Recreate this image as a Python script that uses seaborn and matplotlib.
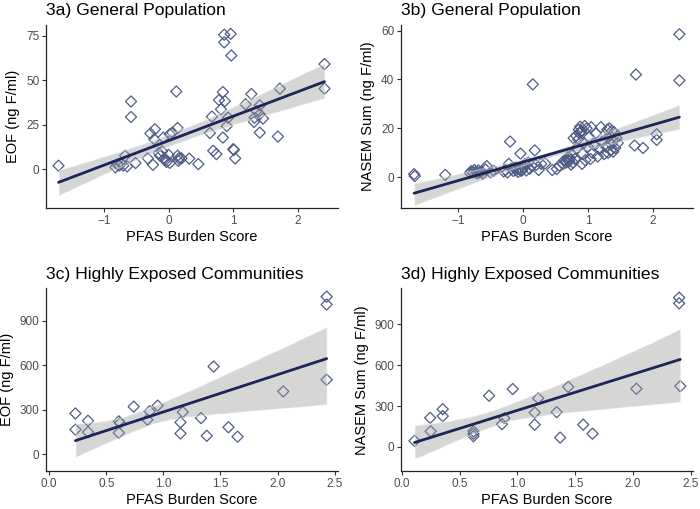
import matplotlib
matplotlib.use("Agg")
import matplotlib.pyplot as plt
import seaborn as sns
from matplotlib.collections import PolyCollection, PathCollection
from matplotlib.ticker import FormatStrFormatter

sns.set_theme(style="ticks")
plt.rcParams["font.family"] = ["Liberation Sans", "DejaVu Sans"]

# ---- data ----
# 3a) general population, EOF vs PFAS burden score
gen_eof_x = [-1.70, -0.82, -0.79, -0.76, -0.73, -0.70, -0.67, -0.64, -0.58, -0.58,
             -0.51, -0.32, -0.28, -0.24, -0.22, -0.21, -0.15, -0.13, -0.10, -0.08,
             -0.06, -0.05, -0.03, 0.00, 0.02, 0.02, 0.06, 0.12, 0.14, 0.14,
             0.15, 0.16, 0.20, 0.32, 0.46, 0.64, 0.67, 0.69, 0.74, 0.78,
             0.81, 0.84, 0.84, 0.86, 0.86, 0.87, 0.90, 0.92, 0.96, 0.97,
             1.00, 1.01, 1.03, 1.19, 1.28, 1.32, 1.33, 1.36, 1.41, 1.41,
             1.41, 1.46, 1.69, 1.72, 2.41, 2.41]
gen_eof_y = [1.9, 1.0, 2.5, 2.0, 3.0, 2.0, 7.5, 1.5, 38.0, 29.3,
             3.4, 6.0, 20.0, 2.4, 16.8, 22.4, 9.0, 7.5, 10.0, 17.7,
             6.0, 5.0, 4.0, 8.0, 19.6, 3.5, 20.5, 43.6, 23.1, 7.5,
             4.7, 6.0, 6.0, 5.9, 2.8, 20.3, 29.5, 10.3, 8.4, 38.8,
             33.6, 43.3, 17.7, 75.5, 71.2, 38.2, 24.2, 28.9, 76.0, 63.8,
             11.2, 10.8, 6.0, 36.4, 42.2, 26.5, 28.9, 32.6, 35.8, 30.8,
             20.5, 28.4, 18.3, 45.2, 59.0, 45.2]

# 3b) general population, NASEM sum vs PFAS burden score
gen_nasem_x = [-1.68, -1.67, -1.20, -0.82, -0.80, -0.77, -0.75, -0.73, -0.71, -0.69,
               -0.67, -0.64, -0.62, -0.58, -0.56, -0.50, -0.45, -0.30, -0.27, -0.24,
               -0.22, -0.20, -0.18, -0.15, -0.12, -0.10, -0.08, -0.06, -0.04, -0.03,
               -0.01, 0.01, 0.03, 0.05, 0.08, 0.10, 0.13, 0.15, 0.18, 0.20,
               0.24, 0.28, 0.34, 0.45, 0.52, 0.56, 0.62, 0.64, 0.66, 0.68,
               0.69, 0.70, 0.71, 0.72, 0.74, 0.75, 0.77, 0.78, 0.80, 0.82,
               0.83, 0.85, 0.86, 0.87, 0.88, 0.89, 0.90, 0.91, 0.92, 0.93,
               0.95, 0.96, 0.98, 1.00, 1.02, 1.04, 1.05, 1.07, 1.10, 1.12,
               1.15, 1.18, 1.20, 1.22, 1.25, 1.28, 1.30, 1.31, 1.33, 1.34,
               1.35, 1.36, 1.37, 1.38, 1.39, 1.40, 1.42, 1.44, 1.46, 1.72,
               1.74, 1.85, 2.06, 2.06, 2.41, 2.41]
gen_nasem_y = [1.3, 0.5, 1.0, 1.8, 2.5, 2.0, 3.0, 2.2, 1.6, 2.8,
               2.0, 2.4, 1.5, 3.2, 4.6, 2.0, 2.6, 2.4, 3.0, 2.0,
               5.5, 14.6, 3.5, 2.6, 4.0, 3.0, 2.2, 3.4, 9.7, 2.6,
               3.0, 4.2, 5.5, 2.8, 6.0, 3.5, 4.8, 38.0, 11.0, 5.0,
               3.0, 5.5, 5.7, 3.0, 3.4, 4.8, 5.5, 7.0, 6.0, 7.5,
               8.2, 7.0, 6.5, 8.0, 5.2, 9.0, 6.0, 16.0, 7.5, 17.0,
               12.0, 15.5, 19.5, 18.0, 20.7, 18.5, 19.0, 5.5, 9.5, 14.0,
               21.0, 7.0, 20.0, 12.5, 16.5, 7.5, 20.5, 10.0, 13.0, 18.0,
               8.5, 11.5, 20.5, 14.5, 9.5, 12.5, 19.5, 10.0, 20.0, 17.0,
               11.0, 13.5, 19.0, 15.0, 10.5, 18.5, 12.0, 16.0, 14.0, 13.0,
               42.0, 12.0, 17.6, 15.3, 58.5, 39.6]

# 3c) highly exposed communities, EOF
hec_eof_x = [0.23, 0.23, 0.34, 0.34, 0.61, 0.62, 0.61, 0.74, 0.86, 0.88,
             0.95, 1.15, 1.15, 1.17, 1.33, 1.38, 1.44, 1.57, 1.65, 2.05,
             2.43, 2.43, 2.43]
hec_eof_y = [275, 166, 226, 149, 222, 210, 144, 321, 233, 290,
             328, 215, 140, 284, 244, 124, 592, 182, 118, 424,
             1064, 1011, 503]

# 3d) highly exposed communities, NASEM sum
hec_nasem_x = [0.11, 0.245, 0.25, 0.354, 0.354, 0.62, 0.62, 0.62, 0.755, 0.867,
               0.887, 0.96, 1.15, 1.15, 1.18, 1.34, 1.37, 1.44, 1.57, 1.65,
               2.03, 2.40, 2.40, 2.41]
hec_nasem_y = [44, 213, 114, 277, 226, 114, 96, 78, 376, 167,
               211, 425, 252, 163, 357, 255, 68, 441, 163, 97,
               427, 1097, 1055, 446]

panels = [
    ("3a) General Population", gen_eof_x, gen_eof_y, "EOF (ng F/ml)",
     (-1.89, 2.62), (-21.8, 81), [-1, 0, 1, 2], [0, 25, 50, 75]),
    ("3b) General Population", gen_nasem_x, gen_nasem_y, "NASEM Sum (ng F/ml)",
     (-1.88, 2.62), (-12.5, 62.3), [-1, 0, 1, 2], [0, 20, 40, 60]),
    ("3c) Highly Exposed Communities", hec_eof_x, hec_eof_y, "EOF (ng F/ml)",
     (-0.026, 2.53), (-116, 1120), [0, 0.5, 1, 1.5, 2, 2.5], [0, 300, 600, 900]),
    ("3d) Highly Exposed Communities", hec_nasem_x, hec_nasem_y, "NASEM Sum (ng F/ml)",
     (-0.006, 2.52), (-180, 1165), [0, 0.5, 1, 1.5, 2, 2.5], [0, 300, 600, 900]),
]

point_col = "#4f5d86"
line_col = "#1b2557"

fig, axes = plt.subplots(2, 2, figsize=(7, 5.09), dpi=100)
fig.subplots_adjust(left=0.066, right=0.99, bottom=0.074, top=0.951,
                    wspace=0.216, hspace=0.44)

for ax, (title, xs, ys, ylab, xlim, ylim, xt, yt) in zip(axes.flat, panels):
    sns.scatterplot(x=xs, y=ys, ax=ax, marker="D", s=32, linewidth=0.9,
                    edgecolor=point_col, zorder=2)
    for coll in ax.collections:
        if isinstance(coll, PathCollection):
            coll.set_facecolor("none")
            coll.set_edgecolor(point_col)
    sns.regplot(x=xs, y=ys, ax=ax, scatter=False, ci=95, n_boot=1000, seed=3,
                color=line_col, line_kws=dict(lw=2, zorder=4))
    for coll in ax.collections:
        if isinstance(coll, PolyCollection):
            coll.set_facecolor("#999999")
            coll.set_alpha(0.4)
            coll.set_zorder(3)
    ax.set_xlim(*xlim)
    ax.set_ylim(*ylim)
    ax.set_xticks(xt)
    ax.set_yticks(yt)
    if xt[1] == 0.5:
        ax.xaxis.set_major_formatter(FormatStrFormatter("%.1f"))
    ax.set_title(title, loc="left", fontsize=12.6, pad=7, color="black")
    ax.set_xlabel("PFAS Burden Score", fontsize=10.5, color="black", labelpad=2)
    ax.set_ylabel(ylab, fontsize=10.5, color="black", labelpad=4)
    ax.tick_params(labelsize=8.5, labelcolor="#4d4d4d", color="#333333",
                   length=3, width=0.8, pad=2)
    for side in ("left", "bottom"):
        ax.spines[side].set_color("#222222")
        ax.spines[side].set_linewidth(0.9)
    sns.despine(ax=ax)

fig.savefig("out.png", dpi=100)
